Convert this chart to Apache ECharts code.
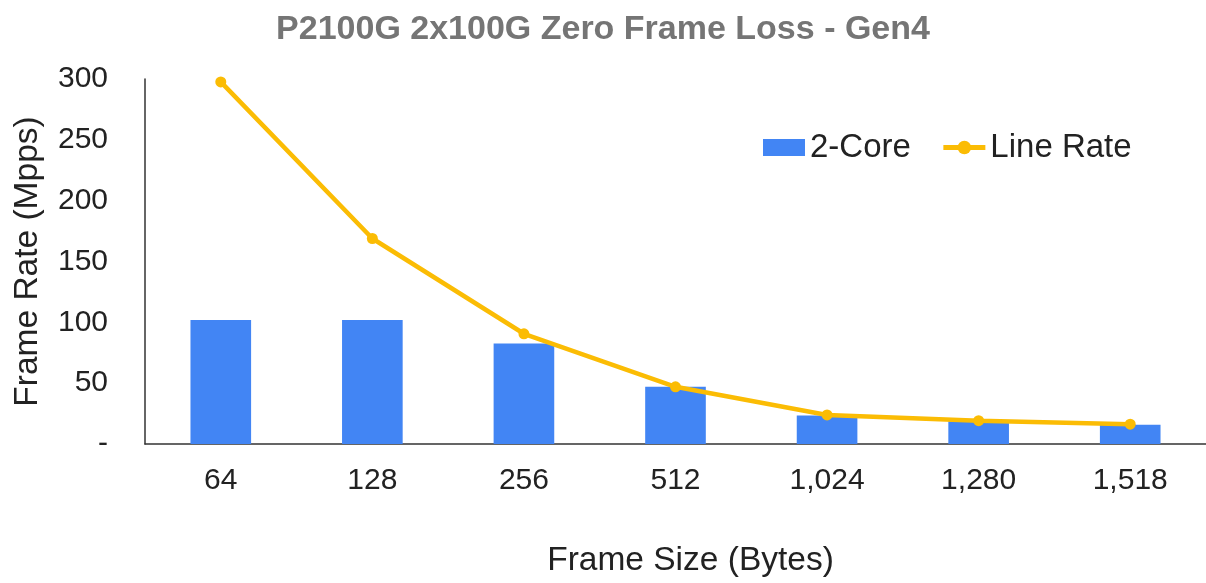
<!DOCTYPE html>
<html>
<head>
<meta charset="utf-8">
<script src="https://cdn.jsdelivr.net/npm/echarts@6/dist/echarts.min.js"></script>
<style>
  html, body { margin: 0; padding: 0; background: #ffffff; }
  #chart { width: 1206px; height: 583px; }
</style>
</head>
<body>
<div id="chart"></div>
<script>
// frame sizes in bytes (x axis)
var frameSizes = ['64', '128', '256', '512', '1,024', '1,280', '1,518']
// measured throughput, 2 cores (Mpps)
var twoCore = [102, 102, 82.6, 47, 23.5, 18.8, 15.8]
// theoretical line rate for 2x100G (Mpps)
var lineRate = [297.6, 168.9, 90.6, 47.0, 23.9, 19.2, 16.3]
var yTicks = { min: 0, max: 300, interval: 50 }

var textColor = '#222222'
var fontFamily = '"Liberation Sans", Arial, sans-serif'

var chart = echarts.init(document.getElementById('chart'))
chart.setOption({
  backgroundColor: '#ffffff',
  animation: false,
  textStyle: { fontFamily: fontFamily },
  title: {
    text: 'P2100G 2x100G Zero Frame Loss - Gen4',
    left: 'center',
    top: 8,
    textStyle: {
      fontSize: 34,
      fontWeight: 'bold',
      color: '#757575',
      fontFamily: fontFamily
    }
  },
  legend: {
    left: 763,
    top: 131,
    padding: 0,
    itemWidth: 42,
    itemHeight: 17,
    itemGap: 30,
    textStyle: {
      fontSize: 33,
      color: textColor
    },
    data: [
      { name: '2-Core', icon: 'rect' },
      { name: 'Line Rate', lineStyle: { width: 5 } }
    ]
  },
  grid: {
    left: 145,
    right: -10,
    top: 79,
    bottom: 132
  },
  xAxis: {
    type: 'category',
    data: frameSizes,
    name: 'Frame Size (Bytes)',
    nameLocation: 'middle',
    nameGap: 100,
    nameTextStyle: { fontSize: 33.5, color: textColor, padding: [0, 0, 0, 30] },
    axisLine: { lineStyle: { color: '#333333', width: 1.5 } },
    axisTick: { show: false },
    axisLabel: { fontSize: 30, color: textColor, margin: 22 }
  },
  yAxis: {
    type: 'value',
    min: yTicks.min,
    max: yTicks.max,
    interval: yTicks.interval,
    name: 'Frame Rate (Mpps)',
    nameLocation: 'middle',
    nameGap: 100,
    nameTextStyle: { fontSize: 33.5, color: textColor },
    axisLine: { show: true, lineStyle: { color: '#333333', width: 1.5 } },
    axisTick: { show: false },
    splitLine: { show: false },
    axisLabel: {
      fontSize: 30,
      color: textColor,
      margin: 37,
      formatter: function (v) { return v === 0 ? '-' : v }
    }
  },
  series: [
    {
      name: '2-Core',
      type: 'bar',
      data: twoCore,
      barWidth: '40%',
      itemStyle: { color: '#4285F4' }
    },
    {
      name: 'Line Rate',
      type: 'line',
      data: lineRate,
      symbol: 'circle',
      symbolSize: 11,
      lineStyle: { color: '#FBBC04', width: 4.5 },
      itemStyle: { color: '#FBBC04' }
    }
  ]
})
</script>
</body>
</html>
